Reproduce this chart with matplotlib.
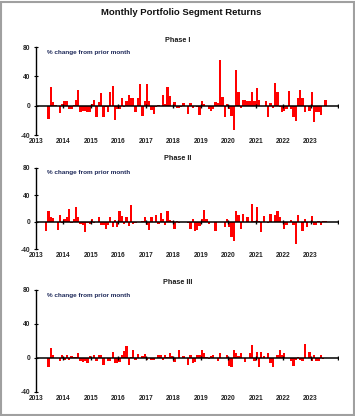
import numpy as np
import matplotlib
matplotlib.use("Agg")
import matplotlib.pyplot as plt
from matplotlib.patches import Rectangle

plt.rcParams['font.family'] = ['Liberation Sans', 'DejaVu Sans']

title = "Monthly Portfolio Segment Returns"
panel_titles = ["Phase I", "Phase II", "Phase III"]
ylabel_note = "% change from prior month"
year_labels = [str(y) for y in range(2013, 2024)]
y_ticks = [-40, 0, 40, 80]

# month index of first bar (0 = Jan 2013)
start_month = [5, 4, 5]

phase1 = [-18, 25, 5, 1, -1, -10, 2, 6, 7, -5, -4, 1, 8, 22, -8, -7, -7, -9, -9, 2,
          8, -16, 5, 17, -16, -2, -8, 18, 27, -19, -4, -4, 11, -2, 7, 15, 11, 11, -8, 10,
          30, -14, 6, 29, 6, -6, -11, -2, 1, 0, 15, 2, 26, 13, 0, 5, -3, -3, -2, 3,
          0, -12, 3, -3, 0, -2, -13, 7, 2, 0, -5, -7, -5, 5, 3, 62, 12, -15, 2, -4,
          -14, -33, 49, 18, -3, 8, 8, 6, 6, 19, 6, 24, 8, 0, 0, 6, -15, 4, -3, 31,
          19, -2, -8, -7, -5, 20, -5, -16, -21, 10, 22, 10, -9, -1, -7, 19, -22, -8, -8, -13,
          0, 8]

phase2 = [-14, 17, 8, 6, 0, -12, 10, -2, 5, 8, 19, -2, 4, 22, 7, -3, -5, -15, -2, -3,
          5, -2, 0, 8, -5, -5, -10, -5, 7, -8, 3, -8, 16, 9, -3, 8, -6, 25, -3, -1,
          0, 0, 2, 8, -5, -12, 7, 0, 10, -3, 14, 5, -5, 17, 3, 2, -11, 2, -2, 0,
          0, 0, -1, -10, 4, -13, -12, -6, 5, 18, 5, -3, 0, 0, -13, 0, 0, 0, -8, 5,
          -8, -22, -28, 17, 10, -11, 12, 0, 8, 0, 27, 2, 22, 1, -15, 9, 0, -2, 12, 0,
          11, 17, 8, 0, -10, -5, 0, 3, -4, -33, 11, 0, -13, 5, -8, 0, 9, -5, -4, 2,
          -5, 1, 1]

phase3 = [-10, 12, 4, 0, 0, -3, 3, -2, 3, -2, 2, 1, 1, 6, -3, -5, -3, -6, 2, 0,
          4, -3, 4, 4, -8, 0, -4, -4, 7, -6, -6, -5, 4, 8, 14, -8, 1, 10, -2, 5,
          0, 2, 5, -2, 0, -2, -2, 0, 4, 4, -2, 3, 1, 6, 2, -5, 0, 9, 0, 2,
          0, -8, 3, -6, -5, 4, 3, 10, 6, 1, -1, 2, 3, 0, -3, 6, 0, 0, 3, -9,
          -10, 10, 6, 2, 6, 0, -5, 0, 6, 15, -3, 7, -10, 7, 2, 0, 6, -6, -10, 0,
          3, 9, 3, 6, 0, 0, -3, -9, -2, 1, -2, -3, 17, 0, 7, -3, 4, -3, -3, 4,
          -1]

series = [phase1, phase2, phase3]

W, H = 355, 416
fig = plt.figure(figsize=(W / 100, H / 100), dpi=100)
fig.patch.set_facecolor('white')
fig.add_artist(Rectangle((0.002, 0.002), 0.994, 0.994, transform=fig.transFigure,
                         fill=False, edgecolor='#a0a0a0', linewidth=1.5))

fig.text(0.51, 0.971, title, ha='center', va='center', fontsize=6.8,
         fontweight='bold', color='#111111')

# axes boxes in pixels: (top, bottom)
boxes = [(47, 135), (168, 249), (290, 392)]
title_y = [40, 159, 283]
left_px, right_px = 36, 338

for i, (vals, (top, bot)) in enumerate(zip(series, boxes)):
    ax = fig.add_axes([left_px / W, 1 - bot / H, (right_px - left_px) / W, (bot - top) / H])
    idx = np.arange(len(vals)) + start_month[i]
    x = 2013 + (idx + 0.5) / 12
    ax.bar(x, vals, width=1 / 12, color='#ff0000', edgecolor='none', zorder=2)
    ax.set_xlim(2013, 2024)
    ax.set_ylim(-40, 80)
    ax.axhline(0, color='black', linewidth=1.1, zorder=3)
    yrs = np.arange(2014, 2025)
    ax.plot(yrs, np.zeros_like(yrs), linestyle='none', marker='|', markersize=3.5,
            markeredgewidth=1.0, color='black', zorder=3)
    for s in ['top', 'right', 'bottom']:
        ax.spines[s].set_visible(False)
    ax.spines['left'].set_linewidth(1.0)
    ax.set_yticks(y_ticks)
    ax.set_yticklabels([str(t) for t in y_ticks], fontsize=4.8, fontweight='bold',
                       color='#222222')
    ax.tick_params(axis='y', direction='inout', length=2.5, width=0.8, pad=3)
    ax.set_xticks(np.arange(2013, 2024))
    ax.set_xticklabels(year_labels, fontsize=4.8, fontweight='bold', color='#222222')
    ax.tick_params(axis='x', length=0, pad=2)
    ax.text(0.035, 0.97, ylabel_note, transform=ax.transAxes, ha='left', va='top',
            fontsize=4.6, fontweight='bold', color='#1f2a5a')
    fig.text(0.5, 1 - title_y[i] / H, panel_titles[i], ha='center', va='center',
             fontsize=5.2, fontweight='bold', color='#1a1a1a')

fig.savefig('out.png', dpi=100, facecolor='white')
